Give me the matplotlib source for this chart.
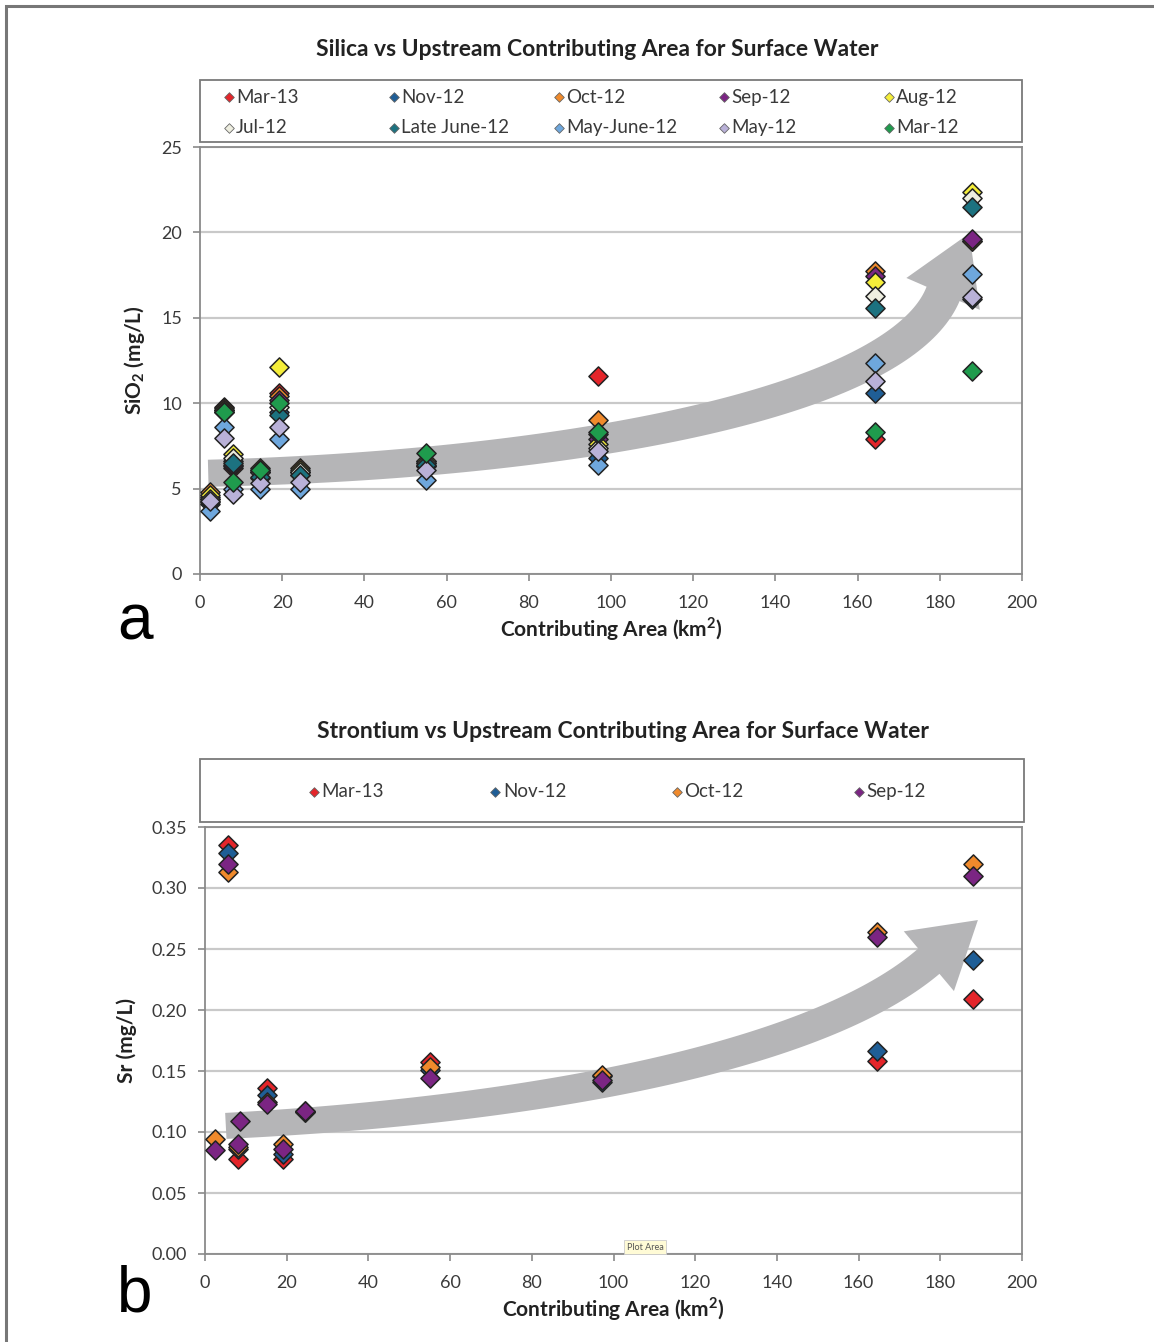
import numpy as np
import matplotlib
matplotlib.use("Agg")
import matplotlib.pyplot as plt
from matplotlib.patches import Rectangle, Polygon

plt.rcParams['font.family'] = ['Lato', 'DejaVu Sans']
plt.rcParams['mathtext.fontset'] = 'custom'
plt.rcParams['mathtext.rm'] = 'Lato'
plt.rcParams['mathtext.bf'] = 'Lato:bold'

# silica (mg/L) by contributing area (km2)
silica_x = [2.4, 5.8, 8.0, 14.6, 19.2, 24.3, 55, 96.8, 164.2, 187.8]
silica_labels = ["Mar-13", "Nov-12", "Oct-12", "Sep-12", "Aug-12",
                 "Jul-12", "Late June-12", "May-June-12", "May-12", "Mar-12"]
silica_colors = ["#e4252a", "#1f5e96", "#f08a2c", "#7b2583", "#f5ee3a",
                 "#eeeee0", "#1c7280", "#6ea7dd", "#b9b1d8", "#1f9b4d"]
nan = np.nan
si_mar13 = [4.4, 9.8, 6.2, 6.0, 10.6, 6.0, 6.3, 11.6, 7.9, 19.5]
si_nov12 = [4.1, 9.6, 6.3, 5.6, 9.5, 5.8, 6.3, 6.8, 10.6, 16.1]
si_oct12 = [4.8, 9.7, 6.6, 6.2, 10.4, 6.2, 6.6, 9.0, 17.75, 19.5]
si_sep12 = [4.5, 9.6, 6.4, 6.0, 10.2, 6.0, 6.5, 7.9, 17.45, 19.6]
si_aug12 = [4.6, 9.6, 7.0, 6.1, 12.1, 6.1, 6.6, 7.6, 17.1, 22.35]
si_jul12 = [4.4, 9.5, 6.8, 6.0, 9.8, 6.0, 6.5, 7.4, 16.3, 22.0]
si_latejun12 = [4.2, 9.5, 6.5, 5.7, 9.3, 5.8, 6.4, 8.2, 15.6, 21.5]
si_mayjun12 = [3.7, 8.6, 5.0, 5.0, 7.9, 5.0, 5.5, 6.4, 12.35, 17.55]
si_may12 = [4.3, 7.95, 4.7, 5.3, 8.6, 5.4, 6.1, 7.2, 11.3, 16.2]
si_mar12 = [nan, 9.5, 5.4, 6.1, 10.0, nan, 7.1, 8.3, 8.3, 11.9]
silica_series = [si_mar13, si_nov12, si_oct12, si_sep12, si_aug12,
                 si_jul12, si_latejun12, si_mayjun12, si_may12, si_mar12]

# strontium (mg/L)
sr_x = [2.4, 5.7, 8.2, 8.6, 15.1, 19.2, 24.5, 55, 97.2, 164.4, 188.1]
sr_labels = ["Mar-13", "Nov-12", "Oct-12", "Sep-12"]
sr_colors = ["#e4252a", "#1f5e96", "#f08a2c", "#7b2583"]
sr_mar13 = [nan, 0.335, 0.078, nan, 0.136, 0.078, 0.116, 0.157, 0.146, 0.158, 0.209]
sr_nov12 = [nan, 0.329, 0.086, nan, 0.130, 0.082, 0.116, 0.151, 0.141, 0.166, 0.241]
sr_oct12 = [0.094, 0.313, 0.088, nan, 0.125, 0.090, 0.117, 0.153, 0.147, 0.264, 0.320]
sr_sep12 = [0.085, 0.320, 0.090, 0.109, 0.123, 0.086, 0.117, 0.144, 0.143, 0.260, 0.310]
sr_series = [sr_mar13, sr_nov12, sr_oct12, sr_sep12]

ARROW = "#b5b5b7"
GRID = "#c9c9c9"
TXT = "#3a3a3a"


def band_arrow(ax, pts, w0, w1, head_w, head_len):
    # curved wide arrow, widths in pixels
    tr = ax.transData
    P = tr.transform(np.array(pts))
    t = np.linspace(0, 1, 100)[:, None]
    c = (1 - t) ** 3 * P[0] + 3 * (1 - t) ** 2 * t * P[1] + 3 * (1 - t) * t ** 2 * P[2] + t ** 3 * P[3]
    d = np.gradient(c, axis=0)
    d /= np.linalg.norm(d, axis=1)[:, None]
    n = np.column_stack([-d[:, 1], d[:, 0]])
    w = (w0 + (w1 - w0) * t) / 2
    left = c + n * w
    right = c - n * w
    tip = P[3] + d[-1] * head_len
    hl = P[3] + n[-1] * head_w / 2
    hr = P[3] - n[-1] * head_w / 2
    poly = np.vstack([left, hl, tip, hr, right[::-1]])
    ax.add_patch(Polygon(tr.inverted().transform(poly), closed=True,
                         facecolor=ARROW, edgecolor='none', zorder=1.5))


def style_axes(ax, yticks, fmt):
    ax.set_xlim(0, 200)
    ax.set_xticks(np.arange(0, 201, 20))
    ax.set_yticks(yticks)
    ax.set_yticklabels([fmt.format(v) for v in yticks])
    ax.grid(axis='y', color=GRID, lw=1.6, zorder=0)
    ax.set_axisbelow(True)
    for s in ax.spines.values():
        s.set_color("#8a8a8a")
        s.set_linewidth(1.3)
    ax.tick_params(axis='both', colors="#8a8a8a", labelcolor=TXT, labelsize=13,
                   length=5, width=1.2, direction='out')
    ax.tick_params(axis='y', pad=8)
    ax.tick_params(axis='x', pad=10)


def manual_legend(ax, labels, colors, x0, dx, ys, ncol):
    for i, (lab, col) in enumerate(zip(labels, colors)):
        x = x0 + (i % ncol) * dx
        y = ys[i // ncol]
        ax.scatter([x], [y], marker='D', s=24, color=col, edgecolor="#666666",
                   linewidth=0.6, transform=ax.transAxes, clip_on=False, zorder=5)
        ax.text(x + 0.009, y, lab, transform=ax.transAxes, fontsize=13.5,
                color=TXT, va='center', ha='left')


fig = plt.figure(figsize=(11.54, 13.42), dpi=100)
fig.patches.append(Rectangle((6 / 1154, -0.01), 1.1, 1 - 6 / 1342 + 0.01, transform=fig.transFigure,
                             fill=False, edgecolor="#777777", lw=2.2))

# ---------------- panel a ----------------
ax1 = fig.add_axes([200 / 1154, 1 - 574 / 1342, 822 / 1154, 427 / 1342])
ax1.set_ylim(0, 25)
style_axes(ax1, np.arange(0, 26, 5), "{:.0f}")
band_arrow(ax1, [(2, 5.9), (90, 6.4), (170, 10.0), (180.8, 16.4)], 27, 36, 80, 66)
for vals, col in zip(silica_series, silica_colors):
    ax1.scatter(silica_x, vals, marker='D', s=95, color=col, edgecolor="#222222",
                linewidth=1.1, zorder=3)
ax1.set_xlabel(r"Contributing Area (km$^\mathbf{2}$)", fontsize=15, fontweight='bold',
               color="#222222", labelpad=3)
ax1.set_ylabel(r"SiO$_\mathbf{2}$ (mg/L)", fontsize=15, fontweight='bold',
               color="#222222", labelpad=10)
ax1.add_patch(Rectangle((0, 1.0117), 1.0, 0.1455, transform=ax1.transAxes, clip_on=False,
                        fill=False, edgecolor="#7a7a7a", lw=1.3))
manual_legend(ax1, silica_labels, silica_colors, 0.035, 0.2007, [1.117, 1.0445], 5)
fig.text(597 / 1154, 1 - 50 / 1342, "Silica vs Upstream Contributing Area for Surface Water",
         ha='center', va='center', fontsize=16.5, fontweight='bold', color="#222222")
fig.text(135 / 1154, 1 - 622 / 1342, "a", fontsize=46, family='Liberation Sans',
         ha='center', va='center')

# ---------------- panel b ----------------
ax2 = fig.add_axes([205 / 1154, 1 - 1254 / 1342, 817 / 1154, 427 / 1342])
ax2.set_ylim(0, 0.35)
style_axes(ax2, np.arange(0, 0.351, 0.05), "{:.2f}")
band_arrow(ax2, [(5.1, 0.105), (78.6, 0.1175), (149.3, 0.160), (177.2, 0.240)], 26, 33, 78, 64)
for vals, col in zip(sr_series, sr_colors):
    ax2.scatter(sr_x, vals, marker='D', s=95, color=col, edgecolor="#222222",
                linewidth=1.1, zorder=3)
ax2.set_xlabel(r"Contributing Area (km$^\mathbf{2}$)", fontsize=15, fontweight='bold',
               color="#222222", labelpad=3)
ax2.set_ylabel("Sr (mg/L)", fontsize=15, fontweight='bold', color="#222222", labelpad=10)
ax2.add_patch(Rectangle((-0.006, 1.0117), 1.0085, 0.1475, transform=ax2.transAxes, clip_on=False,
                        fill=False, edgecolor="#7a7a7a", lw=1.3))
manual_legend(ax2, sr_labels, sr_colors, 0.133, 0.2225, [1.082], 4)
fig.text(623 / 1154, 1 - 731 / 1342, "Strontium vs Upstream Contributing Area for Surface Water",
         ha='center', va='center', fontsize=16.5, fontweight='bold', color="#222222")
fig.text(135 / 1154, 1 - 1295 / 1342, "b", fontsize=46, family='Liberation Sans',
         ha='center', va='center')
fig.text(645 / 1154, 1 - 1247 / 1342, "Plot Area", fontsize=6.5, ha='center', va='center',
         color="#555555", bbox=dict(boxstyle='square,pad=0.25', fc="#fffbd6", ec="#cccccc", lw=0.6))

fig.savefig("out.png", dpi=100)
